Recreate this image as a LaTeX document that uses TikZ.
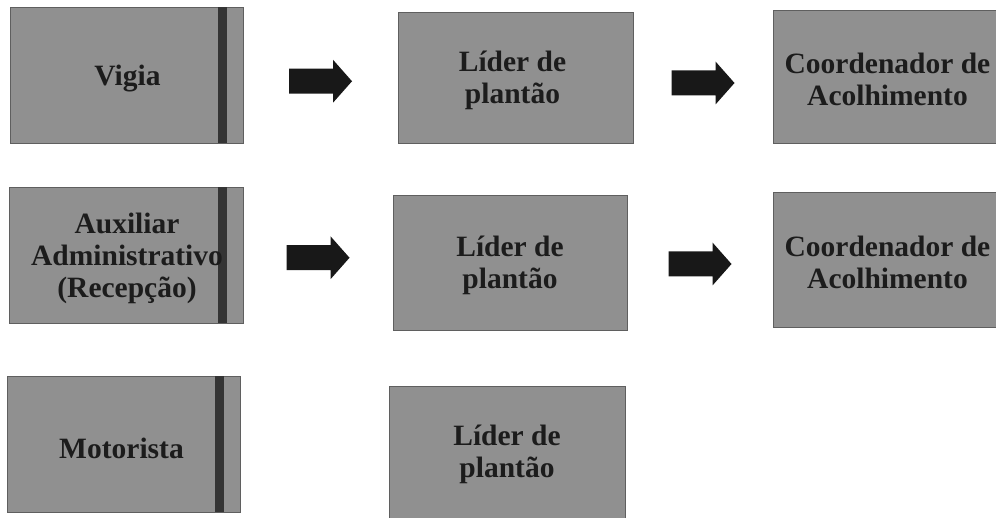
\documentclass[tikz,border=0pt]{standalone}
\usepackage{fontspec}
\setmainfont{Liberation Serif}
\usetikzlibrary{calc}
\definecolor{boxfill}{RGB}{144,144,144}
\definecolor{boxline}{RGB}{95,95,95}
\definecolor{stripcol}{RGB}{52,52,52}
\definecolor{txtcol}{RGB}{28,28,28}
\definecolor{arrowcol}{RGB}{24,24,24}
\tikzset{
  box/.style={rectangle, draw=boxline, line width=0.8pt, fill=boxfill, inner sep=0pt},
  boxtext/.style={inner sep=0pt, align=center, text=txtcol,
    font=\fontsize{29.5}{32}\selectfont\bfseries},
  pics/fatarrow/.style={code={
    \fill[arrowcol] (-31.5,-12.5) -- (12.5,-12.5) -- (12.5,-21.5) -- (31.5,0)
      -- (12.5,21.5) -- (12.5,12.5) -- (-31.5,12.5) -- cycle;}},
  strip/.style={fill=stripcol, draw=none}
}
\newcommand\boxstrip[1]{\fill[strip] ($(#1.north east)+(-25,0)$) rectangle ($(#1.south east)+(-16,0)$);}
\begin{document}
\begin{tikzpicture}[x=1pt,y=-1pt]
\useasboundingbox (0,0) rectangle (996,518);
% row 1
\node[box, minimum width=233pt, minimum height=136pt] (v) at (126.5,75) {};
\node[box, minimum width=235pt, minimum height=131pt] (l1) at (515.5,77.5) {};
\node[box, minimum width=223pt, minimum height=133pt] (c1) at (884.5,76.5) {};
% row 2
\node[box, minimum width=234pt, minimum height=136pt] (a) at (126,255) {};
\node[box, minimum width=234pt, minimum height=135pt] (l2) at (510,262.5) {};
\node[box, minimum width=223pt, minimum height=135pt] (c2) at (884.5,259.5) {};
% row 3
\node[box, minimum width=233pt, minimum height=136pt] (m) at (123.5,444) {};
\node[box, minimum width=236pt, minimum height=132pt] (l3) at (507,452) {};
% dark strips on the left boxes
\boxstrip{v}
\boxstrip{a}
\boxstrip{m}
% texts
\node[boxtext] (vt) at ($(v)+(1,4)$) {Vigia};
\node[boxtext] (l1t) at ($(l1)+(-3,3)$) {Líder de\\plantão};
\node[boxtext] (c1t) at ($(c1)+(3,3)$) {Coordenador de\\Acolhimento};
\node[boxtext] (at) at ($(a)+(1,3)$) {Auxiliar\\Administrativo\\(Recepção)};
\node[boxtext] (l2t) at ($(l2)+(0,3)$) {Líder de\\plantão};
\node[boxtext] (c2t) at ($(c2)+(3,3)$) {Coordenador de\\Acolhimento};
\node[boxtext] (mt) at ($(m)+(-2,4)$) {Motorista};
\node[boxtext] (l3t) at ($(l3)+(0,2)$) {Líder de\\plantão};
% block arrows between boxes
\path (v.east) -- coordinate[pos=.5] (a1) (l1.west);
\path (l1.east) -- coordinate[pos=.5] (a2) (c1.west);
\path (a.east) -- coordinate[pos=.5] (a3) (l2.west);
\path (l2.east) -- coordinate[pos=.5] (a4) (c2.west);
\pic at ($(a1)+(0,5)$) {fatarrow};
\pic at ($(a2)+(0,6)$) {fatarrow};
\pic at ($(a3)+(0,-1)$) {fatarrow};
\pic at ($(a4)+(0,3)$) {fatarrow};
\end{tikzpicture}
\end{document}
